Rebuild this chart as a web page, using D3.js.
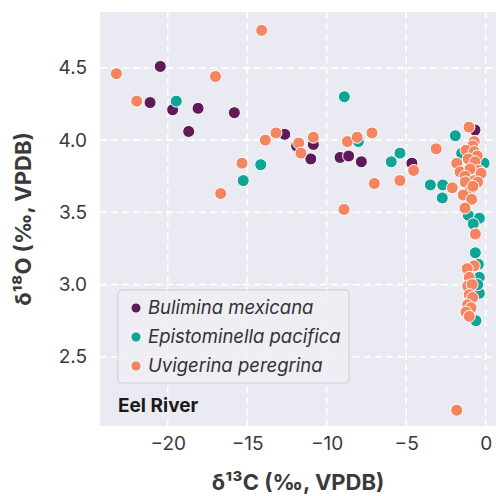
<!DOCTYPE html>
<html>
<head>
<meta charset="utf-8">
<script src="https://cdn.jsdelivr.net/npm/d3@7"></script>
<style>
  body { margin: 0; background: #fff; }
  text { font-family: Inter, "DejaVu Sans", sans-serif; }
</style>
</head>
<body>
<svg id="mainsvg" width="496" height="496"></svg>
<script>
// species data: δ13C (x) and δ18O (y)
const species = ['Bulimina mexicana', 'Epistominella pacifica', 'Uvigerina peregrina'];
const colors = ['#5f1b57', '#0ea597', '#f58560'];

const bulX = [-20.47, -21.11, -19.69, -18.09, -18.68, -15.81, -12.64, -11.89, -10.84, -11.0, -9.16, -8.62, -7.82, -4.64, -0.67];
const bulY = [4.51, 4.26, 4.21, 4.22, 4.06, 4.19, 4.04, 3.96, 3.97, 3.87, 3.88, 3.89, 3.85, 3.84, 4.07];

const epiX = [-19.46, -15.25, -14.15, -8.89, -8.01, -5.94, -5.39, -3.48, -2.70, -2.73, -1.91, -1.51, -0.10, -0.30, -1.09, -0.40, -0.78, -0.67, -0.65, -0.46, -0.40, -0.40, -0.61, -0.50];
const epiY = [4.27, 3.72, 3.83, 4.30, 3.99, 3.85, 3.91, 3.69, 3.69, 3.60, 4.03, 3.91, 3.84, 3.78, 3.48, 3.46, 3.42, 3.35, 3.22, 3.14, 3.05, 2.94, 2.75, 3.00];

const uviX = [-23.23, -21.95, -17.0, -15.33, -16.67, -14.09, -13.86, -13.19, -11.76, -11.62, -10.84, -8.70, -8.08, -7.15, -7.0, -8.91, -4.53, -5.39, -3.11, -2.10, -1.82,
  -1.05, -0.72, -0.82, -1.24, -0.72, -0.53, -1.09, -1.82, -0.67, -1.61, -0.46, -0.98, -1.30, -0.72, -1.28, -0.98, -1.41, -0.88, -1.30, -0.65,
  -0.72, -1.16, -1.03, -1.13, -0.85, -1.03, -0.82, -1.13, -0.92, -1.24, -1.03, -0.29, -0.50, -0.80];
const uviY = [4.46, 4.27, 4.44, 3.84, 3.63, 4.76, 4.00, 4.05, 3.98, 3.91, 4.02, 3.99, 4.02, 4.05, 3.70, 3.52, 3.79, 3.72, 3.94, 3.67, 2.13,
  4.09, 3.99, 3.96, 3.93, 3.92, 3.89, 3.87, 3.84, 3.85, 3.78, 3.79, 3.80, 3.75, 3.72, 3.71, 3.65, 3.62, 3.59, 3.53, 3.35,
  3.13, 3.11, 3.05, 2.99, 3.00, 2.93, 2.91, 2.86, 2.84, 2.81, 2.78, 3.77, 3.71, 3.68];

const xTicks = [-20, -15, -10, -5, 0];
const yTicks = [2.5, 3.0, 3.5, 4.0, 4.5];

const svg = d3.select('#mainsvg');
const margin = {top: 12, right: 0, bottom: 70, left: 100};
const width = +svg.attr('width');
const height = +svg.attr('height');
const innerWidth = width - margin.left - margin.right;
const innerHeight = height - margin.top - margin.bottom;

const xScale = d3.scaleLinear().domain([-24.26, 0.65]).range([0, innerWidth]);
const yScale = d3.scaleLinear().domain([2.021, 4.887]).range([innerHeight, 0]);

const g = svg.append('g').attr('transform', `translate(${margin.left}, ${margin.top})`);

g.append('rect')
  .attr('width', innerWidth).attr('height', innerHeight)
  .attr('fill', '#eaeaf2');

// grid
g.selectAll('.vgrid').data(xTicks).enter().append('line')
  .attr('x1', d => xScale(d)).attr('x2', d => xScale(d))
  .attr('y1', 0).attr('y2', innerHeight)
  .attr('stroke', '#fff').attr('stroke-width', 1.6).attr('stroke-dasharray', '7,4');
g.selectAll('.hgrid').data(yTicks).enter().append('line')
  .attr('y1', d => yScale(d)).attr('y2', d => yScale(d))
  .attr('x1', 0).attr('x2', innerWidth)
  .attr('stroke', '#fff').attr('stroke-width', 1.6).attr('stroke-dasharray', '7,4');

// axes
const xAxis = d3.axisBottom(xScale).tickValues(xTicks).tickSize(0).tickPadding(11).tickFormat(d3.format('d'));
const yAxis = d3.axisLeft(yScale).tickValues(yTicks).tickSize(0).tickPadding(13).tickFormat(d3.format('.1f'));
const xAxisG = g.append('g').attr('transform', `translate(0, ${innerHeight})`).call(xAxis);
const yAxisG = g.append('g').call(yAxis);
[xAxisG, yAxisG].forEach(a => {
  a.select('.domain').remove();
  a.selectAll('.tick text').attr('font-size', '19px').attr('fill', '#3a3a3a')
    .attr('font-family', 'Inter, sans-serif');
});

svg.append('text')
  .attr('x', margin.left + innerWidth / 2).attr('y', 490)
  .attr('text-anchor', 'middle')
  .attr('font-size', '22px').attr('font-weight', 'bold').attr('fill', '#3a3a3a')
  .text('δ¹³C (‰, VPDB)');
svg.append('text')
  .attr('transform', `translate(31, ${margin.top + innerHeight / 2}) rotate(-90)`)
  .attr('text-anchor', 'middle')
  .attr('font-size', '22px').attr('font-weight', 'bold').attr('fill', '#3a3a3a')
  .text('δ¹⁸O (‰, VPDB)');

// points
const series = [
  {name: species[0], xs: bulX, ys: bulY, color: colors[0]},
  {name: species[1], xs: epiX, ys: epiY, color: colors[1]},
  {name: species[2], xs: uviX, ys: uviY, color: colors[2]}
];
g.append('clipPath').attr('id', 'clip').append('rect')
  .attr('width', innerWidth).attr('height', innerHeight);
const pts = g.append('g').attr('clip-path', 'url(#clip)');
series.forEach(s => {
  pts.selectAll(null).data(s.xs.map((x, i) => [x, s.ys[i]])).enter().append('circle')
    .attr('cx', d => xScale(d[0]))
    .attr('cy', d => yScale(d[1]))
    .attr('r', 6)
    .attr('fill', s.color)
    .attr('stroke', '#fff').attr('stroke-width', 1);
});

// legend
const lg = g.append('g').attr('transform', 'translate(18, 278)');
lg.append('rect')
  .attr('width', 231).attr('height', 93).attr('rx', 4)
  .attr('fill', '#eeeef4').attr('fill-opacity', 0.85)
  .attr('stroke', '#cfcfd6').attr('stroke-width', 1);
series.forEach((s, i) => {
  lg.append('circle').attr('cx', 18).attr('cy', 18 + i * 29).attr('r', 4.5).attr('fill', s.color);
  lg.append('text').attr('x', 30).attr('y', 18 + i * 29).attr('dy', '0.35em')
    .attr('font-size', '18.5px').attr('font-style', 'italic').attr('fill', '#333')
    .text(s.name);
});

g.append('text')
  .attr('x', 18).attr('y', 400)
  .attr('font-size', '19px').attr('font-weight', 'bold').attr('fill', '#1a1a1a')
  .text('Eel River');
</script>
</body>
</html>
